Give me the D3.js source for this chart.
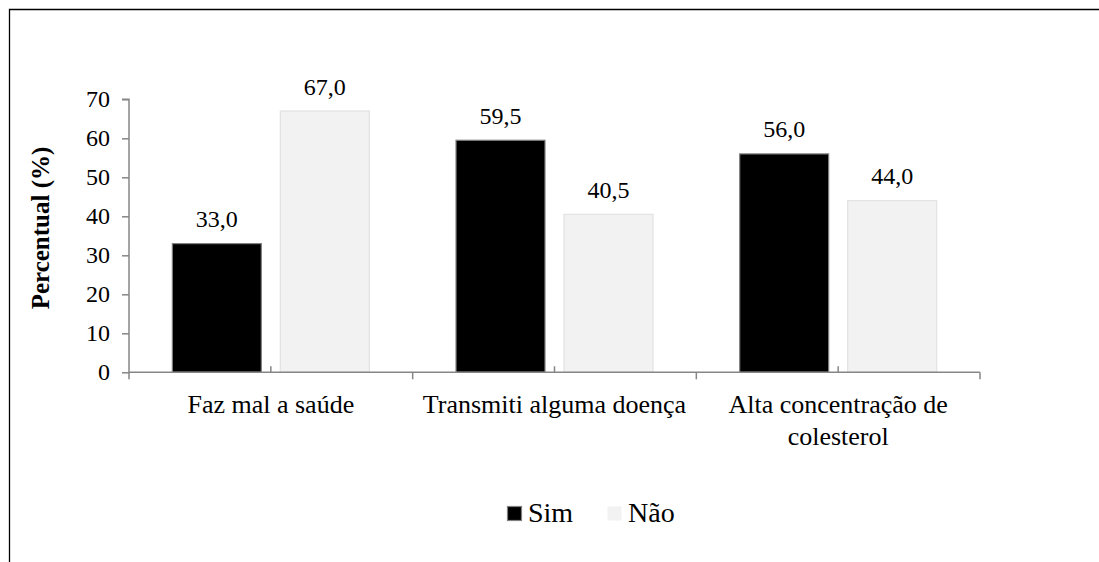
<!DOCTYPE html>
<html>
<head>
<meta charset="utf-8">
<script src="https://cdn.jsdelivr.net/npm/d3@7"></script>
<style>
  html, body { margin: 0; padding: 0; background: #fff; overflow: hidden; }
  svg { display: block; }
</style>
</head>
<body>
<svg id="chart" width="1099" height="562"></svg>
<script>
const categories = ["Faz mal a saúde", "Transmiti alguma doença", "Alta concentração de colesterol"];
const seriesNames = ["Sim", "Não"];
const simValues = [33.0, 59.5, 56.0];
const naoValues = [67.0, 40.5, 44.0];
const yTicks = [0, 10, 20, 30, 40, 50, 60, 70];
const seriesColors = ["#000000", "#f2f2f2"];
const seriesStrokes = ["#808080", "#e2e2e2"];
const yTitle = "Percentual (%)";

const FONT = '"Liberation Serif", "Times New Roman", Tinos, serif';
const values = [simValues, naoValues];
const svg = d3.select("#chart");

// outer frame (top and left edges only visible)
svg.append("path")
  .attr("d", "M9.5,562V9.5H1099")
  .attr("fill", "none").attr("stroke", "#000").attr("stroke-width", 1.3);

const plot = { left: 129, right: 980, top: 99.3, bottom: 372.3 };

const x0 = d3.scaleBand().domain(categories).range([plot.left, plot.right]).paddingInner(0).paddingOuter(0);
const x1 = d3.scaleBand().domain(seriesNames).range([0, x0.bandwidth()]).paddingInner(0.176).paddingOuter(0.4015);
const y = d3.scaleLinear().domain([0, 70]).range([plot.bottom, plot.top]);

const axisColor = "#868686";

// bars
const groups = svg.append("g").selectAll("g")
  .data(categories).join("g")
  .attr("transform", d => `translate(${x0(d)},0)`);

groups.selectAll("rect")
  .data((c, i) => seriesNames.map((s, j) => ({ s, j, v: values[j][i] })))
  .join("rect")
  .attr("x", d => x1(d.s))
  .attr("y", d => y(d.v))
  .attr("width", x1.bandwidth())
  .attr("height", d => y(0) - y(d.v))
  .attr("fill", d => seriesColors[d.j])
  .attr("stroke", d => seriesStrokes[d.j])
  .attr("stroke-width", 1.2);

// data labels
groups.selectAll("text.lbl")
  .data((c, i) => seriesNames.map((s, j) => ({ s, j, v: values[j][i] })))
  .join("text")
  .attr("class", "lbl")
  .attr("x", d => x1(d.s) + x1.bandwidth() / 2)
  .attr("y", d => y(d.v) - 16.5)
  .attr("text-anchor", "middle")
  .style("font-family", FONT)
  .style("font-size", "24px")
  .attr("fill", "#000")
  .text(d => d.v.toFixed(1).replace(".", ","));

// y axis
const yAxis = svg.append("g")
  .attr("transform", `translate(${plot.left},0)`)
  .call(d3.axisLeft(y).tickValues(yTicks).tickSize(7).tickPadding(12).tickFormat(d3.format("d")));
yAxis.selectAll("path, line").attr("stroke", axisColor).attr("stroke-width", 1.5);
yAxis.select(".domain").attr("d", `M-7,${plot.top}H0V${plot.bottom}`);
yAxis.selectAll("text")
  .style("font-family", FONT).style("font-size", "24px").attr("fill", "#000");

// x axis (boundary ticks down, center ticks up)
const xg = svg.append("g");
xg.append("line")
  .attr("x1", plot.left).attr("x2", plot.right)
  .attr("y1", plot.bottom).attr("y2", plot.bottom)
  .attr("stroke", axisColor).attr("stroke-width", 1.5);
const bounds = categories.map(c => x0(c)).concat([x0(categories[categories.length - 1]) + x0.bandwidth()]);
xg.selectAll("line.maj").data(bounds).join("line")
  .attr("class", "maj")
  .attr("x1", d => d).attr("x2", d => d)
  .attr("y1", plot.bottom).attr("y2", plot.bottom + 7)
  .attr("stroke", axisColor).attr("stroke-width", 1.5);
xg.selectAll("line.min").data(categories).join("line")
  .attr("class", "min")
  .attr("x1", d => x0(d) + x0.bandwidth() / 2).attr("x2", d => x0(d) + x0.bandwidth() / 2)
  .attr("y1", plot.bottom).attr("y2", plot.bottom - 6)
  .attr("stroke", axisColor).attr("stroke-width", 1.5);

// category labels with wrapping
const catText = xg.selectAll("text.cat").data(categories).join("text")
  .attr("class", "cat")
  .attr("text-anchor", "middle")
  .style("font-family", FONT)
  .style("font-size", "26px")
  .attr("fill", "#000")
  .attr("x", d => x0(d) + x0.bandwidth() / 2)
  .attr("y", 413);
catText.each(function(d) {
  const t = d3.select(this);
  const cx = +t.attr("x");
  const words = d.split(" ");
  let line = [];
  let tspan = t.append("tspan").attr("x", cx).attr("dy", 0);
  for (const w of words) {
    line.push(w);
    tspan.text(line.join(" "));
    if (tspan.node().getComputedTextLength() > 270 && line.length > 1) {
      line.pop();
      tspan.text(line.join(" "));
      line = [w];
      tspan = t.append("tspan").attr("x", cx).attr("dy", 31.6).text(w);
    }
  }
});

// y title
svg.append("text")
  .attr("transform", `translate(49,228) rotate(-90)`)
  .attr("text-anchor", "middle")
  .style("font-family", FONT)
  .style("font-size", "25px")
  .style("font-weight", "bold")
  .attr("fill", "#000")
  .text(yTitle);

// legend
const legendItems = [
  { name: seriesNames[0], color: seriesColors[0], stroke: seriesStrokes[0], x: 507 },
  { name: seriesNames[1], color: seriesColors[1], stroke: "none", x: 607 }
];
const lg = svg.append("g");
lg.selectAll("rect").data(legendItems).join("rect")
  .attr("x", d => d.x + 0.5).attr("y", 506.5)
  .attr("width", 14).attr("height", 14)
  .attr("fill", d => d.color)
  .attr("stroke", d => d.stroke).attr("stroke-width", 1.2);
lg.selectAll("text").data(legendItems).join("text")
  .attr("x", d => d.x + 21).attr("y", 522)
  .style("font-family", FONT)
  .style("font-size", "28px")
  .attr("fill", "#000")
  .text(d => d.name);
</script>
</body>
</html>
